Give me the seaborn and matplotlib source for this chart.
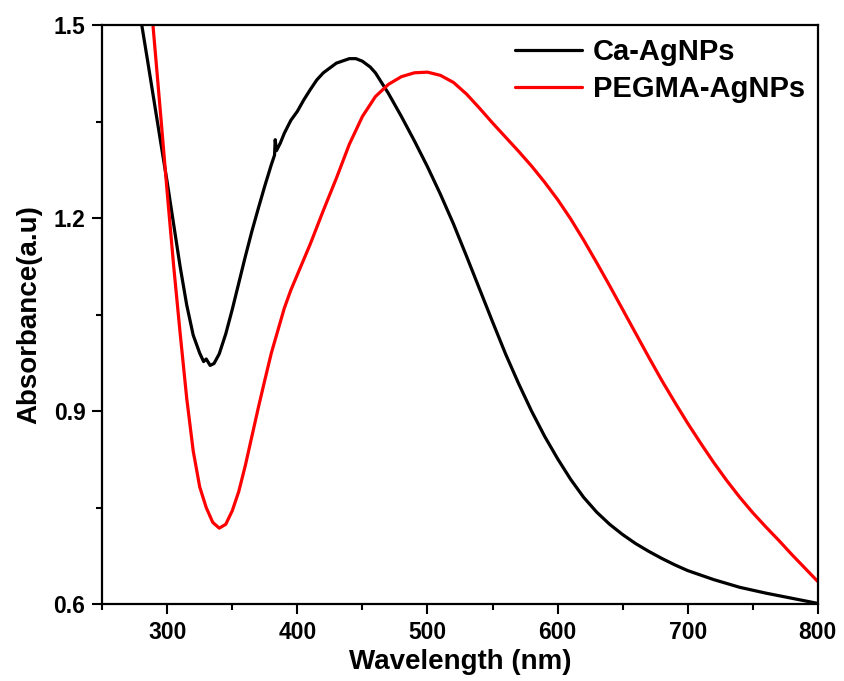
import numpy as np
import pandas as pd
import matplotlib
matplotlib.use("Agg")
import matplotlib.pyplot as plt
from matplotlib.ticker import MultipleLocator
import seaborn as sns

# UV-vis spectra
ca_wavelength = [275, 280, 285, 290, 295, 300, 305, 310, 315, 320, 325, 328, 330, 333, 336,
                 340, 345, 350, 355, 360, 365, 370, 375, 380, 382.5, 383, 384, 387, 390, 395,
                 400, 405, 410, 415, 420, 430, 440, 445, 450, 456, 460, 470, 480,
                 490, 500, 510, 520, 530, 540, 550, 560, 570, 580, 590, 600, 610, 620, 630,
                 640, 650, 660, 670, 680, 690, 700, 720, 740, 760, 780, 800]
ca_absorbance = [1.570, 1.506, 1.444, 1.381, 1.318, 1.256, 1.190, 1.124, 1.065, 1.018, 0.990,
                 0.977, 0.981, 0.971, 0.974, 0.989, 1.020, 1.058, 1.099, 1.140, 1.179, 1.215,
                 1.250, 1.283, 1.298, 1.322, 1.305, 1.317, 1.332, 1.352, 1.366, 1.384, 1.400,
                 1.415, 1.426, 1.441, 1.448, 1.448, 1.444, 1.435, 1.426, 1.394, 1.358,
                 1.320, 1.280, 1.237, 1.191, 1.141, 1.090, 1.039, 0.989, 0.943, 0.900,
                 0.861, 0.826, 0.794, 0.766, 0.743, 0.724, 0.708, 0.694, 0.682, 0.671, 0.661,
                 0.652, 0.638, 0.626, 0.617, 0.609, 0.601]

peg_wavelength = [285, 290, 295, 300, 305, 310, 315, 320, 325, 330, 335, 340, 345, 350, 355,
                  360, 365, 370, 375, 380, 385, 390, 395, 400, 410, 420, 430, 440, 450, 460,
                  470, 480, 490, 500, 510, 520, 530, 540, 550, 560, 570, 580, 590, 600, 610,
                  620, 630, 640, 650, 660, 670, 680, 690, 700, 710, 720, 730, 740, 750, 760,
                  770, 780, 790, 800]
peg_absorbance = [1.595, 1.478, 1.360, 1.240, 1.125, 1.020, 0.920, 0.838, 0.782, 0.750, 0.727,
                  0.718, 0.724, 0.745, 0.775, 0.815, 0.860, 0.905, 0.948, 0.990, 1.025, 1.060,
                  1.088, 1.112, 1.160, 1.212, 1.262, 1.315, 1.358, 1.389, 1.408, 1.420, 1.426,
                  1.427, 1.422, 1.411, 1.393, 1.371, 1.348, 1.326, 1.304, 1.281, 1.256, 1.229,
                  1.199, 1.166, 1.131, 1.095, 1.058, 1.021, 0.984, 0.948, 0.914, 0.881, 0.850,
                  0.820, 0.792, 0.766, 0.742, 0.720, 0.699, 0.677, 0.656, 0.635]

series_names = ["Ca-AgNPs", "PEGMA-AgNPs"]
series_colors = ["black", "#ff0000"]

df = pd.concat([
    pd.DataFrame({"Wavelength": ca_wavelength, "Absorbance": ca_absorbance, "Sample": series_names[0]}),
    pd.DataFrame({"Wavelength": peg_wavelength, "Absorbance": peg_absorbance, "Sample": series_names[1]}),
])

sns.set_theme(style="ticks")
plt.rcParams['font.family'] = ['Liberation Sans', 'DejaVu Sans']
plt.rcParams['font.weight'] = 'bold'
for key in ["text.color", "axes.labelcolor", "xtick.color", "ytick.color", "axes.edgecolor"]:
    plt.rcParams[key] = "black"

fig = plt.figure(figsize=(8.44, 6.81), dpi=100)
ax = fig.add_axes([0.121, 0.113, 0.848, 0.850])

sns.lineplot(data=df, x="Wavelength", y="Absorbance", hue="Sample",
             palette=dict(zip(series_names, series_colors)), estimator=None,
             linewidth=2.3, ax=ax)

ax.set_xlim(250, 800)
ax.set_ylim(0.6, 1.5)
ax.xaxis.set_minor_locator(MultipleLocator(50))
ax.yaxis.set_minor_locator(MultipleLocator(0.15))
ax.set_xticks([300, 400, 500, 600, 700, 800])
ax.set_xticklabels(["300", "400", "500", "600", "700", "800"])
ax.set_yticks([0.6, 0.9, 1.2, 1.5])
ax.set_yticklabels(["0.6", "0.9", "1.2", "1.5"])

ax.tick_params(which="major", direction="out", length=7, width=1.5, labelsize=16.5, pad=5)
ax.tick_params(which="minor", direction="out", length=4.5, width=1.5)
ax.tick_params(top=False, right=False, which="both")
for lab in ax.get_xticklabels() + ax.get_yticklabels():
    lab.set_fontweight("bold")
for s in ax.spines.values():
    s.set_linewidth(1.6)
    s.set_color("black")

ax.set_xlabel("Wavelength (nm)", fontsize=20, fontweight="bold", labelpad=4)
ax.set_ylabel("Absorbance(a.u)", fontsize=20, fontweight="bold", labelpad=8)

leg = ax.legend(loc="upper right", frameon=False, fontsize=21, handlelength=2.3,
                handletextpad=0.35, labelspacing=0.3, borderaxespad=0.05)
for t in leg.get_texts():
    t.set_fontweight("bold")
for h in leg.get_lines():
    h.set_linewidth(2.3)

fig.savefig("out.png", dpi=100, facecolor="white")
